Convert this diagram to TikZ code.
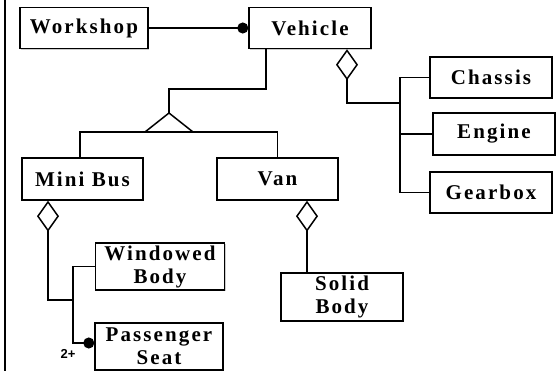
\documentclass[tikz,border=0pt]{standalone}
\usepackage{fontspec}
\setmainfont{Liberation Serif}
\newfontfamily\boxfont[LetterSpace=10]{Liberation Serif}
\newfontfamily\tagfont{Liberation Sans}
\usetikzlibrary{arrows.meta}
\usetikzlibrary{shadows}
\tikzstyle{cls}=[draw, line width=1.4pt, fill=white, inner sep=0pt, align=center,
  font=\boxfont\bfseries\fontsize{21}{23}\selectfont,
  drop shadow={shadow xshift=1.2pt, shadow yshift=-1.2pt, fill=gray!80}]
\tikzstyle{link}=[line width=1.5pt]
\tikzstyle{agg}=[{Diamond[open, fill=white, length=31pt, width=22pt, line width=1.5pt]}-]
\tikzstyle{dot}=[-{Circle[length=11pt]}]

\begin{document}
\begin{tikzpicture}[x=1pt, y=-1pt]
	\useasboundingbox (0,0) rectangle (558,371);
	\draw [line width=2pt] (5,0) -- (5,371);
	% classes
	\node [style=cls, minimum width=128pt, minimum height=41pt] (workshop) at (84, 28) {Workshop};
	\node [style=cls, minimum width=122pt, minimum height=41pt] (vehicle) at (310, 28) {Vehicle};
	\node [style=cls, minimum width=122pt, minimum height=41pt] (chassis) at (491, 77.5) {Chassis};
	\node [style=cls, minimum width=122pt, minimum height=42pt] (engine) at (494, 134) {Engine};
	\node [style=cls, minimum width=122pt, minimum height=41pt] (gearbox) at (491, 192.5) {Gearbox};
	\node [style=cls, minimum width=121pt, minimum height=42pt] (minibus) at (82.5, 179) {Mini Bus};
	\node [style=cls, minimum width=121pt, minimum height=42pt] (van) at (277.5, 179) {Van};
	\node [style=cls, minimum width=129pt, minimum height=47pt] (windowed) at (160, 266.5) {Windowed\\Body};
	\node [style=cls, minimum width=128pt, minimum height=47pt] (passenger) at (159, 346.5) {Passenger\\Seat};
	\node [style=cls, minimum width=122pt, minimum height=48pt] (solid) at (342, 297) {Solid\\Body};
	\node [font=\tagfont\bfseries\fontsize{13}{13}\selectfont] (many) at (68, 354) {2+};
	% junction points
	\coordinate (apex) at (169, 113);
	\coordinate (genleft) at (145, 132);
	\coordinate (genright) at (193, 132);
	\coordinate (partbar) at (400, 103);
	\coordinate (bodybar) at (73, 300);
	% associations
	\draw [style=link, style=dot] (workshop.east) to (vehicle.west);
	% generalisation
	\draw [style=link] (vehicle.south -| 266, 0) |- (apex |- 0, 89) to (apex);
	\draw [style=link] (genleft) to (apex) to (genright);
	\draw [style=link] (minibus.north -| 80, 0) |- (van.north |- genleft) to (van.north);
	% aggregations
	\draw [style=link, style=agg] (vehicle.south -| 347, 0) |- (partbar);
	\draw [style=link] (chassis.west) -| (partbar) |- (gearbox.west);
	\draw [style=link] (partbar |- engine.west) to (engine.west);
	\draw [style=link, style=agg] (minibus.south -| 48, 0) |- (bodybar);
	\draw [style=link] (windowed.west) -| (bodybar);
	\draw [style=link, style=dot] (bodybar) |- (passenger.west |- 0, 343);
	\draw [style=link, style=agg] (van.south -| 307, 0) to (solid.north -| 307, 0);
\end{tikzpicture}
\end{document}
